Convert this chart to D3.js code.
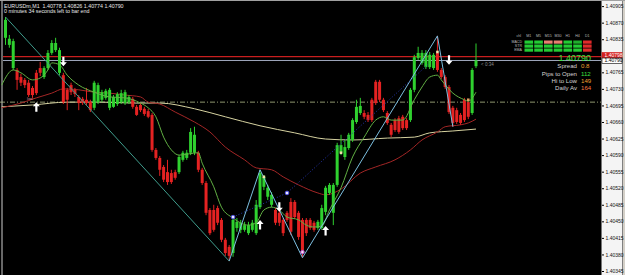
<!DOCTYPE html>
<html><head><meta charset="utf-8">
<script src="https://cdn.jsdelivr.net/npm/d3@7"></script>
<style>html,body{margin:0;padding:0;background:#000;overflow:hidden}svg{display:block}text{font-family:"Liberation Sans",Arial,sans-serif}</style>
</head><body><svg id="c" width="625" height="275"></svg>
<script>
// ---- DATA (EURUSDm, M1) ----
const opens  = [1.40838,1.40823,1.40774,1.40770,1.40755,1.40749,1.40743,1.40732,1.40764,1.40774,1.40755,1.40774,1.40806,1.40812,1.40764,1.40759,1.40728,1.40738,1.40728,1.40713,1.40709,1.40707,1.40702,1.40690,1.40702,1.40707,1.40711,1.40690,1.40692,1.40698,1.40702,1.40700,1.40702,1.40709,1.40692,1.40696,1.40688,1.40683,1.40675,1.40601,1.40584,1.40565,1.40554,1.40552,1.40554,1.40554,1.40580,1.40584,1.40595,1.40595,1.40595,1.40559,1.40531,1.40474,1.40474,1.40478,1.40453,1.40411,1.40396,1.40383,1.40436,1.40432,1.40432,1.40425,1.40432,1.40425,1.40480,1.40523,1.40502,1.40485,1.40474,1.40468,1.40453,1.40468,1.40491,1.40491,1.40468,1.40453,1.40453,1.40453,1.40447,1.40436,1.40436,1.40470,1.40510,1.40468,1.40527,1.40595,1.40586,1.40605,1.40622,1.40660,1.40679,1.40679,1.40675,1.40707,1.40745,1.40745,1.40707,1.40679,1.40654,1.40664,1.40668,1.40671,1.40664,1.40664,1.40728,1.40795,1.40785,1.40776,1.40776,1.40774,1.40806,1.40770,1.40755,1.40734,1.40690,1.40685,1.40675,1.40707,1.40702,1.40679,1.40778];
const highs  = [1.40882,1.40844,1.40836,1.40774,1.40762,1.40753,1.40749,1.40736,1.40770,1.40787,1.40778,1.40812,1.40833,1.40838,1.40817,1.40764,1.40732,1.40743,1.40732,1.40717,1.40713,1.40732,1.40707,1.40747,1.40743,1.40728,1.40730,1.40732,1.40717,1.40723,1.40728,1.40728,1.40717,1.40713,1.40696,1.40700,1.40692,1.40688,1.40679,1.40605,1.40588,1.40569,1.40580,1.40559,1.40559,1.40590,1.40599,1.40601,1.40647,1.40650,1.40599,1.40563,1.40535,1.40478,1.40485,1.40483,1.40457,1.40415,1.40400,1.40463,1.40457,1.40453,1.40449,1.40449,1.40453,1.40495,1.40559,1.40548,1.40527,1.40512,1.40478,1.40472,1.40457,1.40472,1.40499,1.40495,1.40472,1.40457,1.40457,1.40457,1.40451,1.40453,1.40485,1.40525,1.40531,1.40531,1.40616,1.40633,1.40622,1.40637,1.40668,1.40707,1.40711,1.40685,1.40681,1.40711,1.40749,1.40749,1.40711,1.40683,1.40658,1.40668,1.40673,1.40675,1.40668,1.40732,1.40802,1.40819,1.40812,1.40812,1.40808,1.40806,1.40842,1.40774,1.40759,1.40738,1.40694,1.40690,1.40679,1.40711,1.40707,1.40774,1.40826];
const lows   = [1.40823,1.40817,1.40770,1.40728,1.40736,1.40732,1.40713,1.40711,1.40717,1.40757,1.40751,1.40770,1.40802,1.40808,1.40759,1.40698,1.40685,1.40717,1.40713,1.40685,1.40696,1.40696,1.40681,1.40685,1.40698,1.40702,1.40707,1.40685,1.40690,1.40694,1.40698,1.40696,1.40698,1.40688,1.40673,1.40681,1.40673,1.40668,1.40597,1.40580,1.40546,1.40533,1.40527,1.40529,1.40538,1.40550,1.40576,1.40580,1.40590,1.40590,1.40554,1.40527,1.40463,1.40421,1.40428,1.40442,1.40406,1.40377,1.40366,1.40375,1.40428,1.40425,1.40428,1.40421,1.40428,1.40421,1.40476,1.40516,1.40495,1.40480,1.40442,1.40440,1.40419,1.40449,1.40421,1.40455,1.40411,1.40373,1.40419,1.40432,1.40428,1.40432,1.40432,1.40463,1.40506,1.40442,1.40523,1.40590,1.40580,1.40601,1.40618,1.40656,1.40675,1.40666,1.40660,1.40660,1.40696,1.40702,1.40681,1.40654,1.40628,1.40639,1.40635,1.40643,1.40643,1.40660,1.40723,1.40791,1.40781,1.40772,1.40772,1.40770,1.40766,1.40751,1.40730,1.40677,1.40650,1.40656,1.40654,1.40660,1.40666,1.40675,1.40774];
const closes = [1.40876,1.40836,1.40831,1.40749,1.40743,1.40738,1.40717,1.40717,1.40721,1.40764,1.40774,1.40806,1.40827,1.40827,1.40812,1.40702,1.40707,1.40723,1.40719,1.40700,1.40700,1.40700,1.40685,1.40743,1.40738,1.40723,1.40726,1.40728,1.40713,1.40719,1.40721,1.40723,1.40713,1.40692,1.40675,1.40685,1.40677,1.40671,1.40601,1.40584,1.40559,1.40538,1.40533,1.40533,1.40542,1.40586,1.40595,1.40595,1.40639,1.40633,1.40559,1.40531,1.40468,1.40425,1.40432,1.40447,1.40411,1.40383,1.40377,1.40453,1.40449,1.40447,1.40442,1.40442,1.40447,1.40485,1.40552,1.40544,1.40521,1.40506,1.40447,1.40447,1.40425,1.40453,1.40428,1.40459,1.40417,1.40383,1.40425,1.40436,1.40432,1.40449,1.40478,1.40521,1.40527,1.40527,1.40611,1.40611,1.40607,1.40633,1.40664,1.40692,1.40694,1.40671,1.40664,1.40664,1.40700,1.40707,1.40685,1.40658,1.40633,1.40643,1.40639,1.40647,1.40647,1.40728,1.40797,1.40806,1.40806,1.40806,1.40802,1.40802,1.40770,1.40755,1.40734,1.40681,1.40658,1.40660,1.40658,1.40664,1.40671,1.40770,1.40790];

const priceTicks = [1.40905,1.40870,1.40835,1.40765,1.40730,1.40695,1.40660,1.40625,1.40590,1.40555,1.40520,1.40485,1.40450,1.40415,1.40380,1.40345];

// moving averages (bar index, price)
const maFastIdx = [-1,2,4,7,9,11,12,14,16,19,23,27,31,35,37,39,41,43,45,50,51,54,56,59,63,65,67,69,71,73,76,78,80,82,84,87,90,93,96,98,100,103,106,108,110,112,113,116,119,120,122];
const maFastVal = [1.40738,1.40770,1.40764,1.40749,1.40753,1.40770,1.40785,1.40781,1.40759,1.40738,1.40723,1.40713,1.40711,1.40700,1.40690,1.40671,1.40628,1.40601,1.40590,1.40595,1.40573,1.40523,1.40480,1.40457,1.40442,1.40447,1.40474,1.40480,1.40474,1.40459,1.40453,1.40442,1.40438,1.40440,1.40474,1.40521,1.40586,1.40628,1.40664,1.40671,1.40664,1.40664,1.40707,1.40734,1.40755,1.40759,1.40749,1.40721,1.40707,1.40704,1.40723];
const maMidIdx = [-1,4,8,12,15,19,23,27,31,35,37,40,44,49,53,57,62,65,69,72,76,81,83,87,92,96,101,105,108,112,114,118,120,122];
const maMidVal = [1.40690,1.40700,1.40711,1.40721,1.40730,1.40728,1.40723,1.40721,1.40717,1.40713,1.40702,1.40698,1.40681,1.40660,1.40639,1.40607,1.40580,1.40563,1.40559,1.40544,1.40527,1.40510,1.40506,1.40518,1.40552,1.40565,1.40580,1.40601,1.40622,1.40639,1.40650,1.40654,1.40658,1.40666];
const maSlowIdx = [-1,7,16,25,33,40,49,57,66,75,83,90,99,106,110,116,122];
const maSlowVal = [1.40692,1.40696,1.40702,1.40702,1.40700,1.40700,1.40688,1.40671,1.40652,1.40637,1.40624,1.40622,1.40626,1.40628,1.40637,1.40641,1.40645];

// zigzag swing points
const zigIdx = [0,58,66,77,112,116];
const zigVal = [1.40882,1.40366,1.40559,1.40373,1.40842,1.40650];
// dotted fractal channel
const fracIdx = [59,73,110];
const fracVal = [1.40459,1.40510,1.40785];
// arrows
const upIdx = [8,66,83], upVal = [1.40702,1.40453,1.40440];
const dnIdx = [15,71,115], dnVal = [1.40778,1.40470,1.40781];
// markers
const ringIdx = [59,73,77], ringVal = [1.40459,1.40510,1.40385], ringKind = ["b","b","p"];
const dotIdx = [67,87,112,120], dotVal = [1.40544,1.40595,1.40808,1.40707];

const askPrice = 1.40798, bidPrice = 1.40790, levelPrice = 1.40702;
const titleLine1 = "EURUSDm,M1  1.40778 1.40826 1.40774 1.40790";
const titleLine2 = "0 minutes 34 seconds left to bar end";

// dashboard
const tfLabels = ["M1","M5","M15","M30","H1","H4","D1"];
const sigRows = ["MACD","STR","EMA"];
const sigMacd = ["up","up","weak","weak","up","up2","down"];
const sigStr  = ["up","up","up","up","up","up","down"];
const sigEma  = ["up","up","up","up","up","up","down"];
const infoLabels = ["Spread","Pips to Open","Hi to Low","Daily Av"];
const infoValues = ["0.8","112","149","164"];

// ---- DRAW ----
const svg = d3.select("#c");
const W = 625, H = 275, plotR = 601;
const x = d3.scaleLinear().domain([0, 122]).range([5.5, 476]);
const y = d3.scaleLinear().domain([1.40345, 1.40905]).range([271, 6.1]);

svg.append("rect").attr("width", W).attr("height", H).attr("fill", "#000");
// right price strip
svg.append("rect").attr("x", plotR).attr("y", 0).attr("width", W - plotR).attr("height", H).attr("fill", "#f4f4f4");
svg.append("rect").attr("x", 622).attr("y", 0).attr("width", 3).attr("height", H).attr("fill", "#d4d0c8");
svg.append("line").attr("x1", 622.5).attr("x2", 622.5).attr("y1", 0).attr("y2", H).attr("stroke", "#808080");
svg.append("line").attr("x1", plotR + 0.5).attr("x2", plotR + 0.5).attr("y1", 0).attr("y2", H).attr("stroke", "#777");
svg.append("rect").attr("x", 0).attr("y", 0).attr("width", W).attr("height", 1).attr("fill", "#a0a0a0");
svg.append("line").attr("x1", 2).attr("x2", 2).attr("y1", 1).attr("y2", H).attr("stroke", "#cfcfcf").attr("stroke-width", 1);

// horizontal level lines
svg.append("line").attr("x1", 0).attr("x2", plotR).attr("y1", y(levelPrice)).attr("y2", y(levelPrice))
  .attr("stroke", "#b4bc8c").attr("stroke-width", 0.8).attr("stroke-dasharray", "5,2,1,2");
svg.append("line").attr("x1", 3).attr("x2", plotR).attr("y1", y(askPrice)).attr("y2", y(askPrice))
  .attr("stroke", "#c81e1e").attr("stroke-width", 1.3);
svg.append("line").attr("x1", 3).attr("x2", plotR).attr("y1", y(bidPrice)).attr("y2", y(bidPrice))
  .attr("stroke", "#9ea6bc").attr("stroke-width", 1);

// moving averages
function maLine(idx, val, color, w) {
  const pts = idx.map((d, i) => [x(d), y(val[i])]);
  svg.append("path").attr("d", d3.line().curve(d3.curveMonotoneX)(pts))
    .attr("fill", "none").attr("stroke", color).attr("stroke-width", w);
}
maLine(maSlowIdx, maSlowVal, "#d6d2a0", 1);
maLine(maMidIdx, maMidVal, "#a32626", 1);

// candles
const n = closes.length;
const bars = svg.append("g");
for (let i = 0; i < n; i++) {
  const up = closes[i] >= opens[i];
  const col = up ? "#2fd12f" : "#e52222";
  const cx = x(i);
  bars.append("line").attr("x1", cx).attr("x2", cx).attr("y1", y(highs[i])).attr("y2", y(lows[i]))
    .attr("stroke", col).attr("stroke-width", 1);
  const top = y(Math.max(opens[i], closes[i])), bot = y(Math.min(opens[i], closes[i]));
  bars.append("rect").attr("x", cx - 1.5).attr("y", top).attr("width", 3).attr("height", Math.max(1, bot - top)).attr("fill", col);
}

maLine(maFastIdx, maFastVal, "#62b044", 1);

// zigzag
const zpts = zigIdx.map((d, i) => [x(d), y(zigVal[i])]);
svg.append("path").attr("d", d3.line()(zpts.slice(0, 2))).attr("fill", "none").attr("stroke", "#3f9c8c").attr("stroke-width", 1);
svg.append("path").attr("d", d3.line()(zpts.slice(1))).attr("fill", "none").attr("stroke", "#7cbfe0").attr("stroke-width", 1);
// dotted
const fpts = fracIdx.map((d, i) => [x(d), y(fracVal[i])]);
svg.append("path").attr("d", d3.line()(fpts)).attr("fill", "none").attr("stroke", "#2636b0").attr("stroke-width", 1).attr("stroke-dasharray", "1,2");

// markers
ringIdx.forEach((d, i) => {
  svg.append("circle").attr("cx", x(d)).attr("cy", y(ringVal[i])).attr("r", 1.8)
    .attr("fill", ringKind[i] === "b" ? "#e8e8ff" : "#f4dcf4")
    .attr("stroke", ringKind[i] === "b" ? "#5a5af0" : "#b050c8").attr("stroke-width", 1);
});
dotIdx.forEach((d, i) => {
  svg.append("rect").attr("x", x(d) - 1.3).attr("y", y(dotVal[i]) - 1.3).attr("width", 2.6).attr("height", 2.6)
    .attr("fill", i === 3 ? "#e0a060" : "#efe2a8");
});

// arrows
function arrow(cx, tip, dir) {
  const p = [[0,0],[-3.5,4],[-1.1,4],[-1.1,9.5],[1.1,9.5],[1.1,4],[3.5,4]];
  return "M" + p.map(q => [cx + q[0], tip + dir * q[1]].join(",")).join("L") + "Z";
}
upIdx.forEach((d, i) => svg.append("path").attr("d", arrow(x(d), y(upVal[i]), 1)).attr("fill", "#fff"));
dnIdx.forEach((d, i) => svg.append("path").attr("d", arrow(x(d), y(dnVal[i]), -1)).attr("fill", "#fff"));

// small labels
svg.append("text").attr("x", 27).attr("y", 100).attr("font-size", 4).attr("fill", "#d88c9c").text("low");
svg.append("text").attr("x", 481).attr("y", 66).attr("font-size", 4.5).attr("fill", "#8c8c8c").text("< 0:34");

// title
svg.append("text").attr("x", 4).attr("y", 8).attr("font-size", 5.3).attr("fill", "#e8e8e8").attr("xml:space", "preserve").text(titleLine1);
svg.append("text").attr("x", 4).attr("y", 13.3).attr("font-size", 5.3).attr("fill", "#e8e8e8").text(titleLine2);

// price axis
const axis = d3.axisRight(y).tickValues(priceTicks).tickFormat(d3.format(".5f")).tickSize(2).tickPadding(1.5);
const ag = svg.append("g").attr("transform", `translate(${plotR + 1},0)`).call(axis);
ag.select(".domain").remove();
ag.selectAll(".tick line").attr("stroke", "#000");
ag.selectAll(".tick text").attr("fill", "#111").attr("font-size", 5).attr("font-family", "Liberation Sans, Arial, sans-serif");

// price boxes
function priceBox(p, yc, bg, fg, stroke) {
  svg.append("rect").attr("x", plotR + 1).attr("y", yc - 2.7).attr("width", 20).attr("height", 5.4)
    .attr("fill", bg).attr("stroke", stroke).attr("stroke-width", 0.6);
  svg.append("text").attr("x", plotR + 3.5).attr("y", yc + 1.8).attr("font-size", 5).attr("fill", fg).text(d3.format(".5f")(p));
}
priceBox(askPrice, y(askPrice) - 1.6, "#d42020", "#fff", "#d42020");
priceBox(bidPrice, y(bidPrice) + 0.2, "#fff", "#000", "#000");

// dashboard
const colX = tfLabels.map((d, i) => 524.5 + i * 9.75);
const rowY = [40.5, 44.5, 48.5];
const sigColor = { up: "#22cc33", up2: "#1fae2c", weak: "#e88070", down: "#e02a2a" };
svg.append("text").attr("x", 521).attr("y", 37.3).attr("font-size", 3.6).attr("fill", "#bbb").attr("text-anchor", "end").text("chl");
tfLabels.forEach((t, i) => svg.append("text").attr("x", colX[i] + 4.3).attr("y", 37.3).attr("font-size", 3.6)
  .attr("fill", "#bbb").attr("text-anchor", "middle").text(t));
[sigMacd, sigStr, sigEma].forEach((row, r) => {
  svg.append("text").attr("x", 522).attr("y", rowY[r] + 2.7).attr("font-size", 3.6).attr("fill", "#bbb").attr("text-anchor", "end").text(sigRows[r]);
  row.forEach((s, i) => svg.append("rect").attr("x", colX[i]).attr("y", rowY[r]).attr("width", 8.6).attr("height", 3.2).attr("fill", sigColor[s]));
});
svg.append("text").attr("x", 591).attr("y", 60.6).attr("font-size", 9).attr("fill", "#3ee03e").attr("text-anchor", "end").text(d3.format(".5f")(bidPrice));
const infoY = [68.3, 75.6, 83, 90.3];
const valColor = ["#f4a030", "#3ee03e", "#f4a030", "#f47a40"];
infoLabels.forEach((t, i) => {
  svg.append("text").attr("x", 577).attr("y", infoY[i]).attr("font-size", 6.1).attr("fill", "#d4d4d4").attr("text-anchor", "end").text(t);
  svg.append("text").attr("x", 581).attr("y", infoY[i]).attr("font-size", 6.1).attr("fill", valColor[i]).text(infoValues[i]);
});
</script></body></html>
